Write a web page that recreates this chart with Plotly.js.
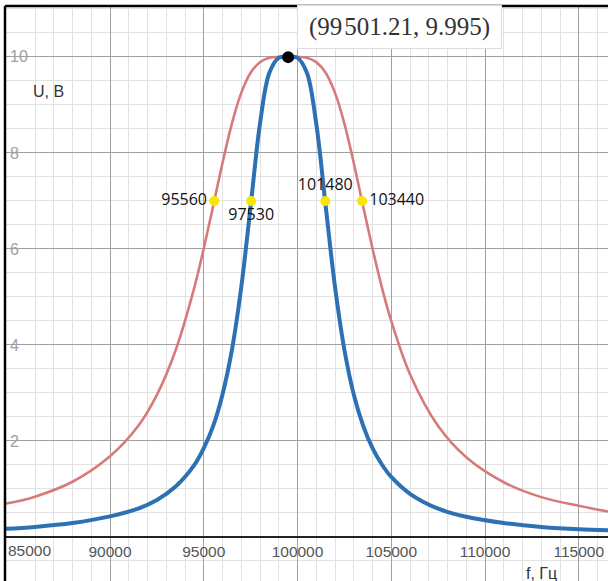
<!DOCTYPE html>
<html>
<head>
<meta charset="utf-8">
<script src="https://cdn.plot.ly/plotly-3.0.1.min.js"></script>
<style>html,body{margin:0;padding:0;background:#fff;}#chart{width:608px;height:581px;}</style>
</head>
<body>
<div id="chart"></div>
<script>
// Frequency grid (Hz) and voltages
const freq = [84400, 86000, 88000, 90000, 91500, 92500, 93500, 94500, 95000, 95500, 96000, 96500, 97000, 97500, 98000, 98500, 99000, 99501,
  100000, 100500, 101000, 101500, 102000, 102500, 103000, 103500, 104000, 104500, 105000, 106000, 107500, 109000, 111000, 113000, 115000, 116560];
const uRed = [0.69, 0.84, 1.15, 1.68, 2.31, 2.96, 3.89, 5.20, 6.01, 6.89, 7.79, 8.61, 9.25, 9.67, 9.89, 9.98, 10.0, 10.0,
  10.0, 9.98, 9.89, 9.67, 9.25, 8.61, 7.79, 6.89, 6.01, 5.20, 4.50, 3.39, 2.31, 1.66, 1.14, 0.83, 0.65, 0.53];
const uBlue = [0.17, 0.21, 0.29, 0.43, 0.59, 0.77, 1.05, 1.50, 1.85, 2.31, 2.97, 3.89, 5.20, 6.89, 8.61, 9.67, 9.98, 10.0,
  9.98, 9.67, 8.61, 6.90, 5.21, 3.90, 2.97, 2.32, 1.85, 1.51, 1.25, 0.90, 0.59, 0.42, 0.29, 0.21, 0.16, 0.14];

const peakF = [99501.21];
const peakU = [9.995];
const peakLabel = '(99\u200a501.21, 9.995)';

const markF = [95560, 97530, 101480, 103440];
const markU = [7, 7, 7, 7];
const markText = ['95560', '97530', '101480', '103440'];

const xTicks = [85000, 90000, 95000, 100000, 105000, 110000, 115000];
const xTickText = ['', '90000', '95000', '100000', '105000', '110000', '115000'];
const edgeTick = 85000;     // its label is kept inside the view, as in the picture
const edgeTickText = '85000';
const yTicks = [2, 4, 6, 8, 10];

const xRange = [84400, 116560];
const yRange = [-0.917, 11.06];
const axisPos = (0 - yRange[0]) / (yRange[1] - yRange[0]);

const tickFont = {family: 'Liberation Sans, Arial, sans-serif', size: 15.5, color: '#555'};

const traces = [
  {x: freq, y: uRed, type: 'scatter', mode: 'lines', line: {color: '#d77a7a', width: 2.6, shape: 'spline', smoothing: 1}, hoverinfo: 'skip'},
  {x: freq, y: uBlue, type: 'scatter', mode: 'lines', line: {color: '#2d70b3', width: 4, shape: 'spline', smoothing: 1}, hoverinfo: 'skip'},
  {x: markF, y: markU, type: 'scatter', mode: 'markers+text', text: markText,
   textposition: ['middle left', 'bottom center', 'top center', 'middle right'],
   textfont: {family: 'Open Sans, sans-serif', size: 16, color: '#111'},
   marker: {color: '#f7e600', size: 10}, hoverinfo: 'skip'},
  {x: peakF, y: peakU, type: 'scatter', mode: 'markers', marker: {color: '#000', size: 12}, hoverinfo: 'skip'}
];

const gridMajor = '#a0a0a0';
const gridMinor = '#e2e2e2';

const layout = {
  width: 608, height: 581,
  margin: {l: 5, r: 0, t: 6, b: 0, pad: 0},
  paper_bgcolor: '#fff', plot_bgcolor: '#fff',
  showlegend: false,
  xaxis: {
    range: xRange, tickmode: 'array', tickvals: xTicks, ticktext: xTickText,
    showgrid: true, gridcolor: gridMajor, gridwidth: 1,
    minor: {tickmode: 'linear', tick0: 0, dtick: 1000, showgrid: true, gridcolor: gridMinor, gridwidth: 1},
    zeroline: false, showline: false, ticks: '',
    anchor: 'free', position: axisPos,
    tickfont: tickFont,
    ticklabelstandoff: 4, ticklabeloverflow: 'allow'
  },
  yaxis: {
    range: yRange, tickmode: 'array', tickvals: yTicks, ticktext: yTicks.map(String),
    showgrid: true, gridcolor: gridMajor, gridwidth: 1,
    minor: {tickmode: 'linear', tick0: 0, dtick: 0.5, showgrid: true, gridcolor: gridMinor, gridwidth: 1},
    zeroline: true, zerolinecolor: '#222', zerolinewidth: 2,
    showline: false, ticks: '', ticklabelposition: 'inside', ticklabelstandoff: 2,
    tickfont: {family: 'Liberation Sans, Arial, sans-serif', size: 16, color: '#a0a0a0'}
  },
  shapes: [
    {type: 'line', xref: 'paper', yref: 'paper', x0: 0, x1: 0, y0: 0, y1: 1, line: {color: '#000', width: 2.5}, layer: 'above'},
    {type: 'line', xref: 'paper', yref: 'paper', x0: 0, x1: 1, y0: 1, y1: 1, line: {color: '#000', width: 2.5}, layer: 'above'}
  ],
  annotations: [
    {x: edgeTick, y: 0, xref: 'x', yref: 'y', text: edgeTickText, showarrow: false,
     xanchor: 'left', yanchor: 'top', xshift: -10, yshift: -3, font: tickFont},
    {x: peakF[0], y: peakU[0], xref: 'x', yref: 'y', text: peakLabel, showarrow: false,
     xshift: 111, yshift: 30, xanchor: 'center', yanchor: 'middle',
     font: {family: 'Liberation Serif, Times New Roman, serif', size: 25, color: '#333'},
     bgcolor: '#fff', bordercolor: '#dcdcdc', borderwidth: 1, borderpad: 2, width: 199, height: 38},
    {xref: 'paper', yref: 'paper', x: 0.0432, y: 0.851, xanchor: 'left', yanchor: 'middle', showarrow: false,
     text: 'U, B', font: {family: 'Liberation Sans, Arial, sans-serif', size: 16, color: '#333'}},
    {xref: 'paper', yref: 'paper', x: 0.861, y: 0.0139, xanchor: 'left', yanchor: 'middle', showarrow: false,
     text: 'f, Гц', font: {family: 'Liberation Sans, Arial, sans-serif', size: 16, color: '#333'}}
  ]
};

Plotly.newPlot('chart', traces, layout, {staticPlot: true, displayModeBar: false});
</script>
</body>
</html>
